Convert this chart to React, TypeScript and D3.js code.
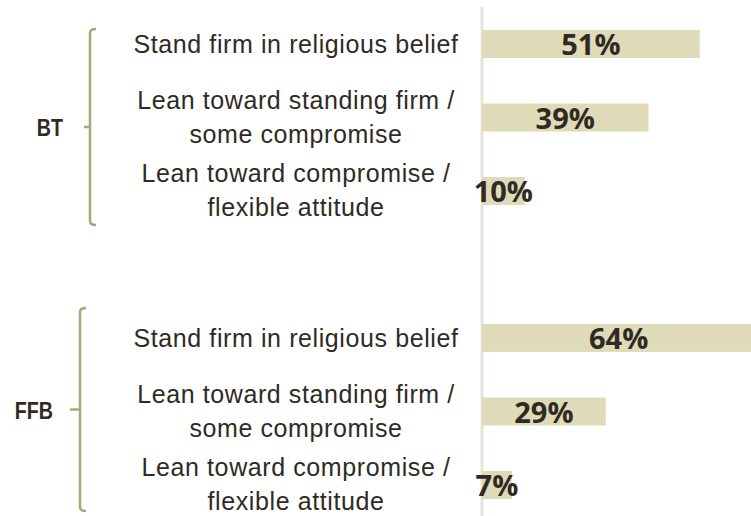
import { useEffect, useRef } from "react";
import * as d3 from "d3";

// groups and answers
const groups = ["BT", "FFB"];
const answerLines = [
  ["Stand firm in religious belief"],
  ["Lean toward standing firm /", "some compromise"],
  ["Lean toward compromise /", "flexible attitude"],
];
const btValues = [51, 39, 10];
const ffbValues = [64, 29, 7];
const groupValues = [btValues, ffbValues];

const width = 751;
const height = 516;

const App = () => {
  const svgRef = useRef<SVGSVGElement>(null);

  useEffect(() => {
    const svg = d3.select(svgRef.current);
    svg.selectAll("*").remove();

    // one row per answer, with an empty row between the groups
    const rows: { key: string; group: number; answer: number; value: number }[] = [];
    groups.forEach((g, gi) => {
      groupValues[gi].forEach((v, ai) => {
        rows.push({ key: `${g}-${ai}`, group: gi, answer: ai, value: v });
      });
    });
    const keys = [...rows.filter((r) => r.group === 0).map((r) => r.key), "gap", ...rows.filter((r) => r.group === 1).map((r) => r.key)];

    const x0 = 482;
    const x = d3.scaleLinear().domain([0, 100]).range([x0, x0 + 427]);
    const y = d3
      .scaleBand<string>()
      .domain(keys)
      .range([7.25, 521.75])
      .paddingInner(0.62)
      .paddingOuter(0.31);
    const cy = (k: string) => (y(k) ?? 0) + y.bandwidth() / 2;

    const textColor = "#2f2b24";
    const labelFont = "'Liberation Sans', Arial, sans-serif";

    // axis line
    svg.append("line")
      .attr("x1", x0)
      .attr("x2", x0)
      .attr("y1", 7)
      .attr("y2", height)
      .attr("stroke", "#e4e1d8")
      .attr("stroke-width", 2.7);

    // bars
    svg.selectAll("rect.bar")
      .data(rows)
      .join("rect")
      .attr("class", "bar")
      .attr("x", x(0))
      .attr("y", (d) => y(d.key) ?? 0)
      .attr("width", (d) => x(d.value) - x(0))
      .attr("height", y.bandwidth())
      .attr("fill", "#dfdbb9");

    // value labels
    svg.selectAll("text.val")
      .data(rows)
      .join("text")
      .attr("class", "val")
      .attr("x", (d) => (x(0) + x(d.value)) / 2)
      .attr("y", (d) => cy(d.key) + 11)
      .attr("text-anchor", "middle")
      .attr("font-family", "'Open Sans', sans-serif")
      .attr("font-weight", 700)
      .attr("font-size", 29)
      .attr("fill", textColor)
      .text((d) => `${d.value}%`);

    // answer labels
    const labels = svg.selectAll("g.lab")
      .data(rows)
      .join("g")
      .attr("class", "lab")
      .attr("transform", (d) => `translate(296,${cy(d.key)})`);
    labels.each(function (d) {
      const lines = answerLines[d.answer];
      const offs = lines.length === 1 ? [9] : [-9, 25];
      d3.select(this)
        .selectAll("text")
        .data(lines)
        .join("text")
        .attr("y", (_, i) => offs[i])
        .attr("text-anchor", "middle")
        .attr("font-family", labelFont)
        .attr("font-size", 25)
        .attr("letter-spacing", 0.6)
        .attr("fill", textColor)
        .text((t) => t);
    });

    // group brackets
    const brackets = [
      { bx: 90, top: -15, bottom: 34, tick: 6 },
      { bx: 80, top: -30, bottom: 26, tick: 10 },
    ];
    groups.forEach((g, gi) => {
      const gr = rows.filter((r) => r.group === gi);
      const b = brackets[gi];
      const top = cy(gr[0].key) + b.top;
      const bottom = cy(gr[gr.length - 1].key) + b.bottom;
      const mid = (top + bottom) / 2;
      const path = d3.path();
      path.moveTo(b.bx + 6, top);
      path.quadraticCurveTo(b.bx, top, b.bx, top + 4);
      path.lineTo(b.bx, bottom - 4);
      path.quadraticCurveTo(b.bx, bottom, b.bx + 6, bottom);
      path.moveTo(b.bx - b.tick, mid);
      path.lineTo(b.bx, mid);
      svg.append("path")
        .attr("d", path.toString())
        .attr("fill", "none")
        .attr("stroke", "#aaa67c")
        .attr("stroke-width", 2.5);
      // narrow bold label (condensed horizontally)
      svg.append("text")
        .attr("transform", `translate(${b.bx - 27},${mid + 9}) scale(0.82,1)`)
        .attr("text-anchor", "end")
        .attr("font-family", labelFont)
        .attr("font-weight", 700)
        .attr("font-size", 24)
        .attr("fill", textColor)
        .text(g);
    });
  }, []);

  return (
    <svg
      ref={svgRef}
      width={width}
      height={height}
      style={{ position: "absolute", left: 0, top: 0, background: "#fff" }}
    ></svg>
  );
};

export default App;
